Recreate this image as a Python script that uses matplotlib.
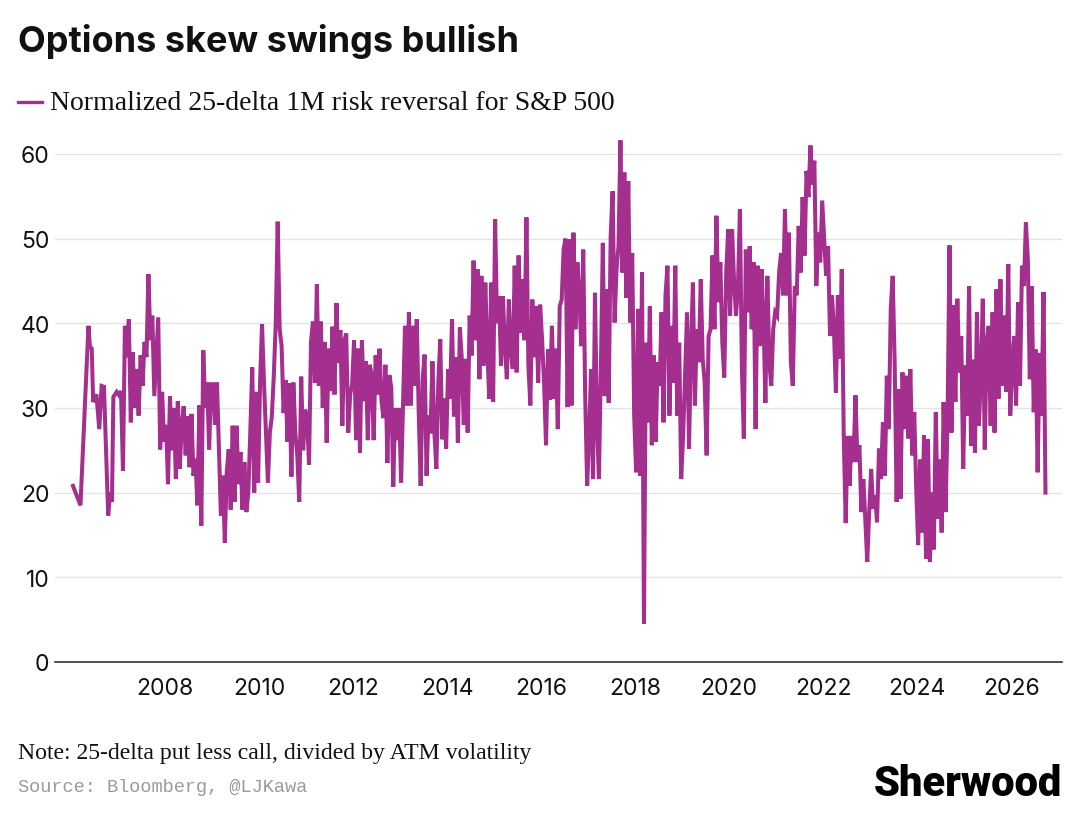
import matplotlib

matplotlib.use("Agg")
import matplotlib.pyplot as plt
import numpy as np


LINE_COLOR = "#a42f8f"

# 2006 is sparse, so its points carry their own decimal-year dates
early_dates = [2006.04, 2006.20, 2006.37, 2006.40, 2006.44, 2006.47, 2006.54,
               2006.60, 2006.65, 2006.70, 2006.79, 2006.83, 2006.87, 2006.90,
               2006.97]
early_values = [20.8, 18.5, 39.7, 37.3, 37.0, 30.7, 31.6, 27.5, 32.6, 32.5,
                17.3, 20.0, 18.9, 31.3, 31.9]

# from 2007 on: 24 readings per year, evenly spread through the year
y2007 = [31.5, 32.0, 22.6, 39.7, 36.0, 40.5, 28.3, 36.6, 30.0, 34.6, 29.1, 36.2,
         32.6, 37.8, 36.0, 45.8, 38.0, 40.9, 31.4, 36.0, 40.7, 25.1, 31.9, 26.0]
y2008 = [28.0, 21.0, 31.4, 25.0, 30.0, 21.6, 30.8, 22.8, 28.0, 30.2, 24.4, 29.0,
         23.0, 29.3, 22.0, 24.0, 18.5, 30.3, 16.1, 36.8, 30.0, 33.0, 25.1, 32.8]
y2009 = [32.8, 28.0, 33.0, 25.1, 17.3, 22.0, 14.1, 22.5, 25.1, 18.0, 27.9, 18.9,
         27.9, 21.0, 24.8, 18.0, 23.6, 17.7, 20.0, 27.1, 34.8, 20.0, 31.9, 21.2]
y2010 = [33.0, 39.9, 33.0, 27.1, 21.2, 27.1, 29.0, 33.7, 40.0, 52.0, 39.3, 37.3,
         29.4, 33.3, 26.0, 32.9, 21.9, 33.0, 27.1, 24.4, 18.9, 33.7, 25.0, 29.8]
y2011 = [28.8, 23.3, 37.8, 40.2, 33.0, 44.6, 32.6, 40.2, 30.0, 37.8, 25.9, 37.0,
         32.0, 39.6, 31.6, 42.4, 35.3, 39.2, 27.9, 38.0, 38.8, 27.1, 31.6, 32.8]
y2012 = [38.0, 26.2, 37.0, 24.7, 38.0, 30.8, 35.5, 26.2, 35.1, 33.9, 26.2, 36.2,
         31.6, 37.0, 30.8, 28.8, 35.1, 23.5, 33.9, 32.4, 20.7, 30.0, 26.2, 30.0]
y2013 = [21.2, 30.3, 39.7, 30.3, 41.3, 30.3, 39.7, 32.6, 40.5, 29.5, 20.8, 33.4,
         36.3, 22.0, 29.1, 27.0, 35.5, 27.1, 22.8, 33.0, 38.1, 26.3, 31.1, 25.2]
y2014 = [34.6, 31.1, 40.5, 29.0, 36.0, 25.9, 39.5, 35.8, 28.0, 35.8, 27.1, 40.9,
         36.2, 47.4, 38.0, 46.4, 33.4, 45.6, 35.0, 44.8, 37.0, 31.1, 44.8, 30.7]
y2015 = [52.3, 40.0, 43.2, 35.0, 43.2, 37.3, 33.4, 42.8, 36.9, 34.6, 46.8, 34.2,
         48.0, 38.9, 45.2, 38.0, 52.5, 35.0, 30.3, 42.8, 36.0, 42.0, 33.0, 42.2]
y2016 = [38.0, 33.0, 25.6, 36.9, 31.0, 39.7, 31.1, 37.0, 27.5, 42.0, 42.8, 48.8,
         50.0, 30.1, 49.9, 30.3, 50.7, 39.3, 47.2, 43.3, 37.3, 48.7, 31.4, 20.8]
y2017 = [26.7, 34.6, 21.6, 43.6, 28.3, 21.6, 34.6, 49.5, 31.4, 44.0, 30.6, 50.3,
         55.6, 40.1, 46.4, 49.1, 61.6, 46.0, 57.8, 43.0, 56.8, 40.1, 48.3, 29.1]
y2018 = [22.4, 41.7, 22.0, 46.0, 4.5, 37.7, 28.3, 42.0, 25.6, 36.2, 26.0, 35.4,
         32.6, 41.3, 28.3, 43.3, 46.8, 29.1, 39.7, 33.0, 46.8, 29.1, 37.7, 21.6]
y2019 = [26.7, 33.8, 41.3, 25.2, 37.0, 44.8, 30.3, 39.3, 35.4, 45.2, 35.8, 33.0,
         24.4, 38.5, 39.3, 48.0, 39.3, 52.7, 42.5, 47.2, 37.7, 33.6, 46.0, 51.1]
y2020 = [40.9, 51.1, 45.0, 40.9, 44.4, 53.5, 34.6, 26.4, 48.7, 41.3, 49.1, 39.3,
         47.2, 27.5, 46.8, 37.3, 46.4, 40.9, 30.6, 45.6, 35.4, 32.6, 39.3, 41.3]
y2021 = [40.9, 46.0, 48.3, 43.3, 53.5, 43.3, 50.7, 35.4, 32.6, 44.4, 43.3, 51.5,
         46.0, 54.9, 48.0, 58.0, 54.9, 61.0, 56.4, 59.2, 44.4, 50.7, 47.2, 54.5]
y2022 = [50.0, 45.6, 49.1, 38.5, 43.3, 39.3, 31.8, 43.3, 35.8, 46.4, 26.7, 16.4,
         26.7, 20.8, 26.7, 23.6, 31.5, 23.6, 25.6, 17.7, 21.6, 16.9, 11.8, 17.7]
y2023 = [22.8, 18.1, 19.7, 16.5, 25.2, 21.6, 28.3, 22.0, 33.8, 27.5, 41.7, 45.6,
         35.4, 18.9, 32.2, 19.3, 34.2, 27.5, 33.8, 26.4, 34.6, 24.4, 29.5, 20.5]
y2024 = [13.8, 23.9, 15.3, 26.8, 12.2, 26.3, 11.8, 20.0, 13.3, 29.5, 16.9, 23.9,
         15.3, 30.7, 17.7, 28.7, 49.2, 27.1, 42.1, 30.7, 42.9, 34.2, 38.5, 22.8]
y2025 = [35.0, 29.1, 44.4, 25.5, 35.7, 24.7, 41.3, 27.9, 33.8, 42.9, 25.1, 37.7,
         39.7, 27.9, 41.3, 27.1, 44.0, 31.1, 45.2, 32.6, 40.9, 31.9, 47.0, 29.1]
y2026 = [34.6, 38.5, 30.3, 42.5, 32.6, 46.8, 44.4, 51.9, 47.6, 33.4, 44.4, 29.5,
         36.9, 22.4, 36.5, 29.1, 43.7, 20.0]

YEARLY = [y2007, y2008, y2009, y2010, y2011, y2012, y2013, y2014, y2015, y2016,
          y2017, y2018, y2019, y2020, y2021, y2022, y2023, y2024, y2025, y2026]

X_TICKS = list(range(2008, 2027, 2))
Y_TICKS = [0, 10, 20, 30, 40, 50, 60]

SANS = ["Inter", "DejaVu Sans"]
SERIF = ["Liberation Serif", "DejaVu Serif"]


def build_series() -> tuple[np.ndarray, np.ndarray]:
    dates = list(early_dates)
    values = list(early_values)
    for offset, vals in enumerate(YEARLY):
        year = 2007 + offset
        dates.extend(year + (np.arange(len(vals)) + 0.5) / 24)
        values.extend(vals)
    return np.asarray(dates), np.asarray(values)


def main() -> None:
    dates, values = build_series()

    fig = plt.figure(figsize=(10.8, 8.2), dpi=100)
    ax = fig.add_axes([0.051, 0.1915, 0.9323, 0.6402])

    ax.plot(dates, values, color=LINE_COLOR, lw=2.9, solid_joinstyle="miter")

    ax.set_xlim(2005.66, 2027.08)
    ax.set_ylim(0, 62)
    ax.set_xticks(X_TICKS)
    ax.set_yticks(Y_TICKS)
    ax.tick_params(axis="both", length=0, labelsize=16.5, colors="#111111")
    ax.tick_params(axis="x", pad=11)
    ax.tick_params(axis="y", pad=4)
    for label in ax.get_xticklabels() + ax.get_yticklabels():
        label.set_family(SANS)

    ax.grid(axis="y", color="#e4e4e4", lw=1.0)
    ax.set_axisbelow(True)
    for side in ("left", "right", "top"):
        ax.spines[side].set_visible(False)
    ax.spines["bottom"].set_color("#333333")
    ax.spines["bottom"].set_linewidth(1.2)

    fig.text(0.0167, 0.949, "Options skew swings bullish", fontsize=26,
             fontweight="bold", family=SANS, va="center", color="#111111")
    fig.add_artist(plt.Line2D([0.0167, 0.039], [0.874, 0.874], color=LINE_COLOR,
                              lw=2.4, transform=fig.transFigure))
    fig.text(0.046, 0.874, "Normalized 25-delta 1M risk reversal for S&P 500",
             fontsize=20, family=SERIF, va="center", color="#111111")

    fig.text(0.0167, 0.0815, "Note: 25-delta put less call, divided by ATM volatility",
             fontsize=17.1, family=SERIF, va="center", color="#111111")
    fig.text(0.0167, 0.040, "Source: Bloomberg, @LJKawa", fontsize=13.4,
             family=["Liberation Mono", "DejaVu Sans Mono"], va="center",
             color="#9a9a9a")
    fig.text(0.983, 0.043, "Sherwood", fontsize=30, fontweight="heavy",
             family=["Roboto", "Liberation Sans", "DejaVu Sans"], ha="right",
             va="center", color="#000000")

    fig.savefig("out.png", dpi=100)
    plt.close(fig)


if __name__ == "__main__":
    main()
